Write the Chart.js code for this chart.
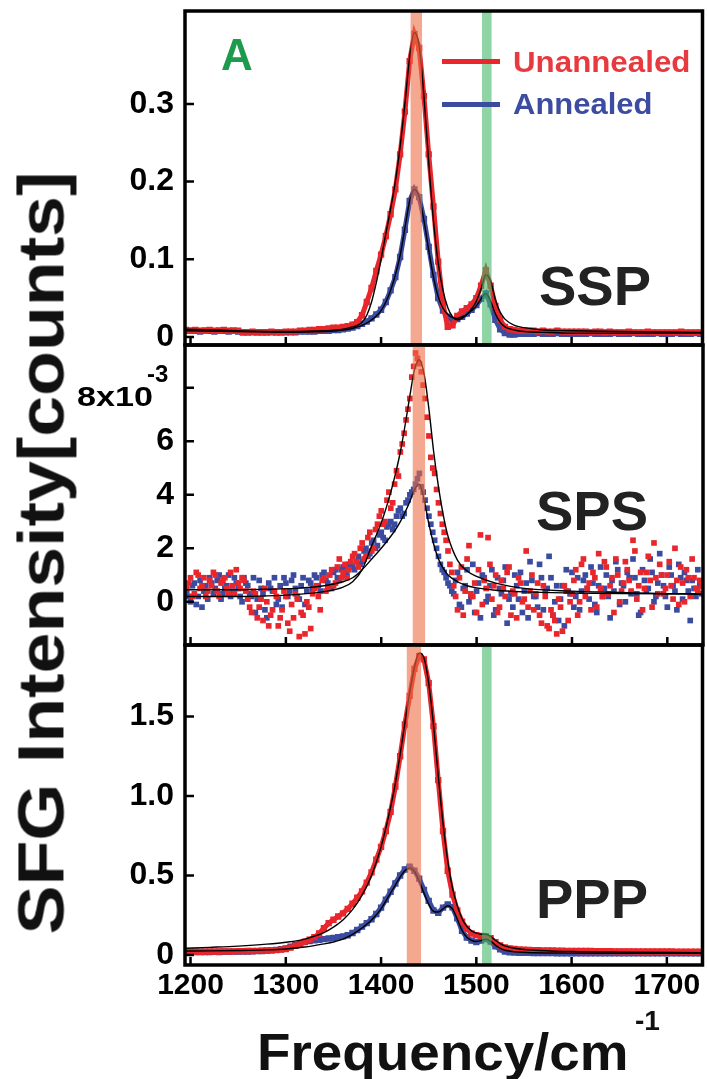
<!DOCTYPE html>
<html><head><meta charset="utf-8">
<script src="https://cdn.jsdelivr.net/npm/chart.js@4.4.1/dist/chart.umd.min.js"></script>
<style>
html,body{margin:0;padding:0;background:#fff;}
#wrap{position:relative;width:707px;height:1079px;overflow:hidden;background:#fff;}
canvas{position:absolute;left:0;}
.t{position:absolute;font-family:"Liberation Sans",Arial,Helvetica,sans-serif;font-weight:bold;white-space:nowrap;line-height:1;margin:0;}
.sw{position:absolute;height:5px;width:58px;left:442px;}
</style></head><body>
<div id="wrap">
<canvas id="c1" width="707" height="365" style="top:0px"></canvas>
<canvas id="c2" width="707" height="345" style="top:325px"></canvas>
<canvas id="c3" width="707" height="454" style="top:625px"></canvas>
<div class="t" id="ytitle" style="font-size:64px;color:#111;">SFG Intensity[counts]</div>
<div class="t" id="xtitle" style="font-size:52px;color:#111;left:257px;top:1026px;">Frequency/cm</div>
<div class="t" id="xsup" style="font-size:28px;color:#111;left:635px;top:1007px;">-1</div>
<div class="t" style="font-size:56px;color:#222;left:539px;top:258px;">SSP</div>
<div class="t" style="font-size:56px;color:#222;left:536px;top:483px;">SPS</div>
<div class="t" style="font-size:56px;color:#222;left:536px;top:871px;">PPP</div>
<div class="t" id="lblA" style="font-size:44px;color:#1E9A4C;left:221px;top:33px;">A</div>
<div class="sw" style="top:59px;background:#E8262B;"></div>
<div class="sw" style="top:101.5px;background:#3A4BA0;"></div>
<div class="t" id="legU" style="font-size:29px;color:#E83A3E;left:513px;top:48px;">Unannealed</div>
<div class="t" id="legA" style="font-size:29px;color:#3C4CA0;left:513px;top:89.5px;">Annealed</div>
</div>
<script>
// ---------- axis settings ----------
const X_MIN = 1194.2, X_MAX = 1737.4;
const X_TICKS = [1200,1300,1400,1500,1600,1700];
const X_TICK_LABELS = ['1200','1300','1400','1500','1600','1700'];
const SSP_TICKS = [0,0.1,0.2,0.3];
const SSP_TICK_LABELS = ['0','0.1','0.2','0.3'];
const SPS_TICKS = [0,2,4,6,8];
const SPS_TICK_LABELS = ['0','2','4','6',''];
const PPP_TICKS = [0,0.5,1.0,1.5];
const PPP_TICK_LABELS = ['0','0.5','1.0','1.5'];

// ---------- frequency grids (cm-1) ----------
const FREQ = [1195,1200,1205,1210,1215,1220,1225,1230,1235,1240,1245,1250,
1255,1260,1265,1270,1275,1280,1285,1290,1295,1300,
1305,1310,1315,1320,1325,1330,1335,1340,1345,1350,
1355,1360,1365,1370,1375,1380,1385,1390,1395,1400,
1405,1410,1415,1420,1425,1430,1435,1440,1445,1450,
1455,1460,1465,1470,1475,1480,1485,1490,1495,1500,
1505,1510,1515,1520,1525,1530,1535,1540,1545,1550,
1555,1560,1565,1570,1575,1580,1585,1590,1595,1600,
1605,1610,1615,1620,1625,1630,1635,1640,1645,1650,
1655,1660,1665,1670,1675,1680,1685,1690,1695,1700,
1705,1710,1715,1720,1725,1730,1735];

// ---------- SSP (counts) ----------
const SSP_UNANNEALED = [0.009,0.008,0.009,0.008,0.008,0.009,0.008,0.008,0.009,0.008,0.008,0.008,
0.006,0.006,0.007,0.006,0.006,0.006,0.007,0.006,0.006,0.007,
0.007,0.007,0.008,0.008,0.009,0.009,0.010,0.010,0.011,0.012,
0.012,0.013,0.014,0.016,0.019,0.028,0.045,0.063,0.085,0.106,
0.13,0.158,0.19,0.235,0.29,0.355,0.39,0.372,0.31,0.235,
0.168,0.097,0.042,0.013,0.015,0.027,0.033,0.037,0.042,0.05,
0.066,0.086,0.066,0.04,0.022,0.013,0.01,0.009,0.008,0.008,
0.008,0.008,0.007,0.008,0.007,0.007,0.008,0.007,0.007,0.007,
0.007,0.007,0.007,0.006,0.007,0.007,0.006,0.007,0.006,0.006,
0.006,0.007,0.006,0.006,0.006,0.007,0.006,0.006,0.006,0.006,
0.006,0.006,0.007,0.006,0.006,0.006,0.006];
const SSP_ANNEALED = [0.008,0.008,0.008,0.007,0.008,0.008,0.007,0.008,0.008,0.007,0.008,0.007,
0.006,0.006,0.006,0.006,0.006,0.006,0.006,0.006,0.006,0.006,
0.006,0.006,0.007,0.007,0.007,0.007,0.008,0.008,0.008,0.009,
0.009,0.010,0.011,0.012,0.014,0.017,0.020,0.024,0.029,0.035,
0.045,0.06,0.077,0.103,0.138,0.175,0.19,0.18,0.152,0.116,
0.08,0.05,0.034,0.026,0.022,0.023,0.026,0.03,0.035,0.041,
0.049,0.056,0.042,0.022,0.01,0.005,0.003,0.003,0.004,0.004,
0.004,0.004,0.005,0.004,0.004,0.004,0.005,0.004,0.004,0.004,
0.004,0.004,0.004,0.005,0.004,0.004,0.004,0.004,0.005,0.004,
0.004,0.004,0.005,0.004,0.004,0.004,0.004,0.005,0.004,0.004,
0.004,0.005,0.004,0.004,0.004,0.005,0.004];
const SSP_FIT_X = [1195,1250,1300,1340,1360,1370,1375,1380,1385,1390,1395,1400,1405,1410,1415,1420,1425,1430,1435,1440,1445,1450,1455,1460,1465,1470,1475,1480,1485,1490,1495,1500,1505,1510,1515,1520,1525,1530,1540,1550,1570,1600,1650,1737];
const SSP_FIT_UNANNEALED = [0.010,0.008,0.007,0.008,0.010,0.013,0.015,0.019,0.028,0.045,0.07,0.1,0.133,0.165,0.2,0.245,0.3,0.36,0.392,0.375,0.31,0.225,0.15,0.095,0.06,0.038,0.026,0.022,0.024,0.029,0.036,0.046,0.062,0.08,0.072,0.048,0.032,0.023,0.015,0.012,0.009,0.008,0.007,0.006];
const SSP_FIT_ANNEALED = [0.008,0.007,0.006,0.007,0.009,0.011,0.013,0.015,0.018,0.022,0.027,0.034,0.045,0.06,0.08,0.105,0.14,0.175,0.19,0.18,0.15,0.112,0.077,0.052,0.037,0.029,0.025,0.024,0.026,0.029,0.034,0.04,0.049,0.056,0.046,0.03,0.019,0.013,0.009,0.007,0.006,0.005,0.005,0.005];

// ---------- SPS (x10^-3 counts), two interleaved scans ----------
const FREQ_SPS = [1196,1200,1204,1208,1212,1216,1220,1224,1228,1232,1236,1240,1244,1248,1252,1256,
1260,1264,1268,1272,1276,1280,1284,1288,1292,1296,1300,1304,1308,1312,1316,1320,1324,1328,
1332,1336,1340,1344,1348,1352,1356,1360,1364,1368,
1372,1376,1380,1384,1388,1392,1396,
1400,1404,1408,1412,1416,1420,1424,1428,1432,
1436,1440,
1444,1448,1452,1456,1460,1464,1468,1472,
1476,1480,1484,1488,1492,1496,1500,1504,1508,1512,1516,1520,1524,1528,1532,1536,1540,1544,1548,1552,
1556,1560,1564,1568,1572,1576,1580,1584,1588,1592,1596,1600,1604,1608,1612,1616,1620,1624,1628,1632,
1636,1640,1644,1648,1652,1656,1660,1664,1668,1672,1676,1680,1684,1688,1692,1696,1700,1704,1708,1712,
1716,1720,1724,1728,1732,1736];
const SPS_UNANNEALED = [0.5,0.9,0.3,1.0,0.6,0.2,0.8,1.1,0.4,0.7,0.9,0.3,0.6,1.2,0.5,0.8,
0.1,-0.4,0.3,-0.2,-0.7,0.0,-0.5,0.4,-0.9,-0.3,0.2,-1.1,-0.6,0.1,-0.4,-1.2,-0.2,0.3,
0.6,-0.3,0.9,0.5,1.2,0.7,1.6,1.1,0.9,1.5,
1.8,1.3,2.2,1.7,2.6,2.0,2.9,
3.4,3.0,4.1,3.7,4.9,5.6,6.3,7.2,8.4,
9.3,8.9,
8.1,6.9,5.4,4.8,3.7,2.9,2.3,1.4,
0.6,-0.3,1.3,0.4,2.1,0.2,-0.4,2.5,0.8,2.4,
0.1,1.0,-0.2,0.5,1.1,-0.5,0.3,0.9,0.0,1.9,
0.4,-0.3,0.7,-0.8,0.2,-1.0,-0.5,-1.2,-0.2,0.6,
-0.7,0.3,1.2,0.0,1.6,0.5,-0.3,0.9,1.8,0.2,
1.3,0.6,-0.4,1.0,0.4,1.5,0.8,2.3,0.1,1.1,
0.5,1.7,-0.2,0.9,1.4,0.3,1.0,0.6,2.0,-0.1,
0.7,1.2,0.2,0.9,0.4,0.6];
const SPS_ANNEALED = [0.4,0.0,0.7,0.2,-0.2,0.6,0.9,0.3,0.8,0.1,0.5,1.0,0.4,0.7,0.2,0.9,
0.6,0.2,-0.4,0.8,0.3,-0.6,0.5,0.9,0.1,-0.2,0.7,0.4,1.0,0.2,0.6,-0.1,0.8,0.5,
0.9,0.4,1.1,0.7,0.5,1.2,0.8,1.3,1.0,1.4,
1.2,1.7,1.5,2.0,1.8,2.3,2.1,
2.6,2.3,2.9,2.7,3.2,3.5,3.3,3.8,4.1,
4.4,4.8,
4.1,3.5,2.9,2.3,1.7,1.2,0.9,0.6,
0.3,1.1,-0.2,0.6,0.0,1.4,0.4,-0.6,0.9,0.2,
1.2,-0.3,0.5,0.8,-0.8,0.3,1.0,0.1,-0.4,0.7,
1.5,0.2,-0.2,0.9,0.4,1.7,-0.5,0.6,0.1,-0.9,
0.4,1.1,0.2,-0.3,0.8,0.5,1.3,-0.1,0.6,0.2,
1.0,-0.6,0.4,1.2,0.7,0.0,0.9,1.6,0.3,-0.4,
0.8,0.5,1.1,0.2,1.8,0.6,-0.2,1.0,0.4,1.4,
0.1,0.8,-0.7,0.5,1.2,0.3];
const FREQ_SPS_B = [1198,1202,1206,1210,1214,1218,1222,1226,1230,1234,1238,1242,1246,1250,1254,1258,
1262,1266,1270,1274,1278,1282,1286,1290,1294,1298,1302,1306,1310,1314,1318,1322,1326,1330,
1334,1338,1342,1346,1350,1354,1358,1362,1366,1370,
1374,1378,1382,1386,1390,1394,1398,
1402,1406,1410,1414,1418,1422,1426,1430,1434,
1438,1442,
1446,1450,1454,1458,1462,1466,1470,1474,
1478,1482,1486,1490,1494,1498,1502,1506,1510,1514,1518,1522,1526,1530,1534,1538,1542,1546,1550,1554,
1558,1562,1566,1570,1574,1578,1582,1586,1590,1594,1598,1602,1606,1610,1614,1618,1622,1626,1630,1634,
1638,1642,1646,1650,1654,1658,1662,1666,1670,1674,1678,1682,1686,1690,1694,1698,1702,1706,1710,1714,
1718,1722,1726,1730,1734];
const SPS_UNANNEALED_B = [0.7,0.2,1.1,0.5,0.9,0.4,0.6,1.0,0.2,0.8,0.5,1.1,0.3,0.7,0.9,0.4,
-0.2,0.4,-0.6,0.1,0.5,-0.9,-0.3,0.2,-0.6,0.4,-0.8,-0.1,0.3,-1.3,-0.5,0.0,-1.0,0.5,
0.2,0.8,0.4,1.0,0.6,1.3,0.9,1.4,1.2,1.7,
1.5,2.0,1.6,2.4,1.9,2.7,3.2,
2.9,3.8,3.5,4.4,4.7,5.9,6.8,7.6,8.8,
9.1,8.6,
7.6,6.2,5.0,4.2,3.3,2.6,1.9,1.1,
0.2,0.9,-0.5,1.6,0.3,0.7,1.2,-0.1,0.5,1.4,
0.6,-0.4,0.8,0.2,1.3,0.4,-0.6,0.7,0.1,-0.2,
1.0,0.3,-0.5,0.6,-0.9,-0.3,-0.7,0.1,-1.1,0.4,
0.0,0.8,-0.5,1.4,0.2,0.7,1.1,-0.2,0.5,1.5,
0.3,0.9,1.6,0.0,0.7,1.2,0.4,1.9,0.6,-0.3,
1.1,0.8,2.2,0.3,1.0,0.5,1.5,0.1,0.8,1.3,
0.0,0.9,1.6,0.5,0.8];
const SPS_ANNEALED_B = [0.2,0.6,-0.1,0.8,0.4,0.1,0.7,0.5,1.0,0.3,0.6,0.2,0.9,0.5,0.0,0.7,
0.3,0.9,0.1,0.5,-0.3,0.7,0.4,-0.1,0.6,0.9,0.2,0.8,0.5,0.1,0.9,0.4,0.7,1.0,
0.6,1.0,0.8,0.5,1.1,0.9,1.2,1.1,1.4,1.3,
1.5,1.4,1.9,1.7,2.2,2.0,2.5,
2.4,2.8,3.0,2.9,3.4,3.2,3.7,4.0,4.2,
4.6,4.3,
3.8,3.2,2.6,2.0,1.4,1.1,0.7,0.4,
0.8,-0.1,0.5,1.2,0.2,-0.4,0.7,1.0,0.0,0.6,
-0.5,0.9,0.3,1.3,0.1,-0.2,0.6,1.1,0.4,-0.6,
0.8,0.2,1.4,-0.3,0.5,0.9,0.0,-0.7,0.6,1.2,
0.3,-0.2,0.9,0.4,1.0,0.1,0.7,-0.4,1.3,0.5,
0.2,0.8,1.5,-0.1,0.6,1.1,0.3,0.9,-0.5,1.2,
0.4,1.6,0.0,0.7,1.0,0.2,1.3,0.6,-0.3,0.9,
1.1,0.4,0.8,0.2,0.6];
const SPS_FIT_X = [1195,1220,1250,1280,1310,1340,1360,1370,1380,1390,1400,1410,1415,1420,1425,1430,1435,1440,1445,1450,1455,1460,1465,1470,1480,1490,1500,1520,1550,1600,1650,1700,1737];
const SPS_FIT_UNANNEALED = [0.2,0.2,0.2,0.22,0.27,0.38,0.55,0.75,1.2,2.1,2.95,4.1,4.8,5.6,6.6,7.7,8.7,9.05,8.5,7.2,5.6,4.3,3.25,2.45,1.55,1.15,0.95,0.7,0.5,0.4,0.35,0.3,0.28];
const SPS_FIT_ANNEALED = [0.45,0.45,0.45,0.47,0.5,0.6,0.75,0.9,1.2,1.6,2.0,2.45,2.7,3.0,3.35,3.75,4.2,4.4,3.8,2.9,2.15,1.6,1.25,1.0,0.75,0.6,0.52,0.43,0.37,0.33,0.31,0.3,0.3];

// ---------- PPP (counts) ----------
const PPP_UNANNEALED = [0.02,0.02,0.021,0.02,0.021,0.022,0.021,0.022,0.023,0.022,0.023,0.024,
0.024,0.025,0.025,0.026,0.027,0.028,0.029,0.031,0.034,0.038,
0.046,0.058,0.07,0.084,0.097,0.112,0.135,0.168,0.2,0.222,
0.242,0.262,0.29,0.322,0.36,0.4,0.455,0.52,0.6,0.68,
0.78,0.9,1.06,1.25,1.45,1.63,1.8,1.88,1.86,1.71,
1.44,1.1,0.78,0.53,0.38,0.28,0.21,0.165,0.135,0.125,
0.12,0.118,0.105,0.08,0.06,0.048,0.042,0.038,0.035,0.033,
0.032,0.031,0.03,0.029,0.028,0.028,0.027,0.027,0.026,0.026,
0.026,0.025,0.025,0.025,0.024,0.024,0.024,0.024,0.023,0.023,
0.023,0.023,0.023,0.022,0.022,0.022,0.022,0.022,0.022,0.022,
0.022,0.021,0.021,0.021,0.021,0.021,0.021];
const PPP_ANNEALED = [0.018,0.018,0.019,0.018,0.019,0.019,0.02,0.019,0.02,0.02,0.021,0.021,
0.022,0.022,0.023,0.024,0.025,0.027,0.029,0.032,0.036,0.042,
0.052,0.064,0.074,0.081,0.087,0.092,0.096,0.1,0.104,0.108,
0.112,0.117,0.124,0.138,0.157,0.178,0.2,0.225,0.258,0.298,
0.348,0.398,0.45,0.5,0.538,0.556,0.53,0.48,0.41,0.34,
0.28,0.265,0.298,0.318,0.3,0.23,0.152,0.11,0.09,0.082,
0.09,0.1,0.085,0.055,0.035,0.022,0.017,0.015,0.014,0.013,
0.013,0.012,0.012,0.012,0.012,0.012,0.011,0.011,0.011,0.011,
0.011,0.011,0.011,0.011,0.011,0.011,0.011,0.011,0.011,0.011,
0.011,0.01,0.011,0.011,0.01,0.011,0.011,0.01,0.011,0.011,
0.011,0.01,0.011,0.011,0.01,0.011,0.011];
const PPP_FIT_X = [1195,1220,1250,1280,1300,1320,1340,1350,1360,1370,1380,1390,1400,1410,1415,1420,1425,1430,1435,1440,1445,1450,1455,1460,1465,1470,1475,1480,1485,1490,1495,1500,1505,1510,1515,1520,1525,1530,1540,1560,1600,1650,1737];
const PPP_FIT_UNANNEALED = [0.042,0.048,0.056,0.068,0.08,0.1,0.14,0.175,0.22,0.285,0.375,0.5,0.68,0.93,1.08,1.26,1.46,1.65,1.81,1.9,1.87,1.71,1.45,1.13,0.83,0.59,0.42,0.31,0.23,0.18,0.152,0.137,0.13,0.13,0.117,0.093,0.072,0.057,0.042,0.03,0.022,0.018,0.015];
const PPP_FIT_ANNEALED = [0.025,0.026,0.028,0.032,0.038,0.05,0.07,0.082,0.1,0.13,0.17,0.22,0.29,0.39,0.44,0.49,0.53,0.548,0.525,0.465,0.39,0.32,0.275,0.27,0.29,0.31,0.29,0.225,0.155,0.112,0.092,0.085,0.09,0.1,0.087,0.062,0.042,0.03,0.02,0.014,0.012,0.011,0.01];

// ---------- highlighted bands (cm-1) ----------
const BAND_SSP_ORANGE = [1431,1443];
const BAND_SPS_ORANGE = [1433,1446];
const BAND_PPP_ORANGE = [1427,1442];
const BAND_GREEN = [1506,1516];

const RED = '#E8262B', BLUE = '#3A4BA0';
const ORANGE_FILL = 'rgba(237,110,70,0.6)', GREEN_FILL = 'rgba(68,183,105,0.6)';
const FONT = "'Liberation Sans', Arial, Helvetica, sans-serif";
Chart.defaults.font.family = FONT;

function pts(xs, ys){ const n=Math.min(xs.length, ys.length); const o=[]; for(let i=0;i<n;i++) o.push({x:xs[i], y:ys[i]}); return o; }
function scatterDs(label, xs, ys, color, r, order, lineW){
  return {label, data:pts(xs,ys), backgroundColor:color, borderColor:color, borderWidth:lineW||0,
    pointBorderWidth:0, pointStyle:'rect', pointRadius:r, pointHoverRadius:r,
    showLine:!!lineW, fill:false, tension:0, order, clip:0};
}
function fitDs(label, xs, ys, order){
  return {label, data:pts(xs,ys), borderColor:'#000', backgroundColor:'#000', borderWidth:1.4,
    pointRadius:0, showLine:true, fill:false, cubicInterpolationMode:'monotone', order, clip:0};
}

function panelPlugin(cfg){
  return {
    id:'panel_'+cfg.id,
    afterDatasetsDraw(chart){
      const {ctx, chartArea:a} = chart; const xs = chart.scales.x;
      ctx.save();
      cfg.bands.forEach(b=>{
        const x0 = xs.getPixelForValue(b.range[0]), x1 = xs.getPixelForValue(b.range[1]);
        ctx.fillStyle = b.color;
        ctx.fillRect(x0, a.top, x1-x0, a.bottom-a.top);
      });
      ctx.restore();
    },
    afterDraw(chart){
      const {ctx, chartArea:a} = chart; const xs = chart.scales.x, ys = chart.scales.y;
      ctx.save();
      ctx.strokeStyle = '#000'; ctx.lineWidth = 2.5;
      ctx.beginPath();
      X_TICKS.forEach(v=>{ const p = xs.getPixelForValue(v); ctx.moveTo(p, a.bottom); ctx.lineTo(p, a.bottom-8); });
      cfg.yTicks.forEach(v=>{ const p = ys.getPixelForValue(v); ctx.moveTo(a.left, p); ctx.lineTo(a.left+9, p); });
      ctx.stroke();
      ctx.lineWidth = 3.5;
      ctx.strokeRect(a.left, a.top, a.right-a.left, a.bottom-a.top);
      ctx.restore();
      if (cfg.extra) cfg.extra(chart);
    }
  };
}

function makeOptions(cfg){
  return {
    responsive:false, maintainAspectRatio:false, animation:false, events:[],
    layout:{padding:{top:cfg.padTop, left:0, right:4, bottom:0}},
    plugins:{legend:{display:false}, tooltip:{enabled:false}},
    scales:{
      x:{type:'linear', min:X_MIN, max:X_MAX,
        afterFit:s=>{ s.height = cfg.xh; s.paddingLeft = 0; s.paddingRight = 0; s.paddingTop = 0; s.paddingBottom = 0; },
        afterBuildTicks:s=>{ s.ticks = X_TICKS.map(v=>({value:v})); },
        grid:{display:false, drawTicks:false}, border:{display:false},
        ticks:{display:cfg.showX, padding:3, autoSkip:false, maxRotation:0, color:'#000',
          font:{size:30, weight:'bold', family:FONT}, callback:(v,i)=>X_TICK_LABELS[i]}},
      y:{type:'linear', min:cfg.yMin, max:cfg.yMax,
        afterFit:s=>{ s.width = 185; s.paddingTop = 0; s.paddingBottom = 0; s.paddingLeft = 0; s.paddingRight = 0; },
        afterBuildTicks:s=>{ s.ticks = cfg.yTicks.map(v=>({value:v})); },
        grid:{display:false, drawTicks:false}, border:{display:false},
        ticks:{padding:11, autoSkip:false, color:'#000',
          font:{size:32, weight:'bold', family:FONT}, callback:(v,i)=>cfg.yLabels[i]}}
    }
  };
}

// Panel 1: SSP
new Chart(document.getElementById('c1'), {
  type:'scatter',
  data:{datasets:[
    fitDs('Unannealed fit', SSP_FIT_X, SSP_FIT_UNANNEALED, 0),
    fitDs('Annealed fit', SSP_FIT_X, SSP_FIT_ANNEALED, 0),
    scatterDs('Unannealed', FREQ, SSP_UNANNEALED, RED, 4.5, 1, 5),
    scatterDs('Annealed', FREQ, SSP_ANNEALED, BLUE, 4.5, 2, 5)
  ]},
  options: makeOptions({padTop:11, xh:20, showX:false, yMin:-0.0103, yMax:0.4196, yTicks:SSP_TICKS, yLabels:SSP_TICK_LABELS}),
  plugins:[panelPlugin({id:1, yTicks:SSP_TICKS, bands:[{range:BAND_SSP_ORANGE,color:ORANGE_FILL},{range:BAND_GREEN,color:GREEN_FILL}]})]
});

// Panel 2: SPS
new Chart(document.getElementById('c2'), {
  type:'scatter',
  data:{datasets:[
    fitDs('Unannealed fit', SPS_FIT_X, SPS_FIT_UNANNEALED, 0),
    fitDs('Annealed fit', SPS_FIT_X, SPS_FIT_ANNEALED, 0),
    scatterDs('Unannealed', FREQ_SPS, SPS_UNANNEALED, RED, 4, 1),
    scatterDs('Unannealed (scan 2)', FREQ_SPS_B, SPS_UNANNEALED_B, RED, 4, 1),
    scatterDs('Annealed', FREQ_SPS, SPS_ANNEALED, BLUE, 4, 2),
    scatterDs('Annealed (scan 2)', FREQ_SPS_B, SPS_ANNEALED_B, BLUE, 4, 2)
  ]},
  options: makeOptions({padTop:20, xh:25, showX:false, yMin:-1.615, yMax:9.6, yTicks:SPS_TICKS, yLabels:SPS_TICK_LABELS}),
  plugins:[panelPlugin({id:2, yTicks:SPS_TICKS, bands:[{range:BAND_SPS_ORANGE,color:ORANGE_FILL}],
    extra:(chart)=>{
      const ctx = chart.ctx; const y = chart.scales.y.getPixelForValue(SPS_TICKS[4]);
      ctx.save(); ctx.fillStyle = '#000';
      ctx.font = 'bold 28px ' + FONT; ctx.textBaseline = 'middle'; ctx.textAlign = 'right';
      const w = ctx.measureText('8x10').width;
      ctx.translate(153, y + 10); ctx.scale(76 / w, 1);
      ctx.fillText('8x10', 0, 0);
      ctx.restore();
      ctx.save(); ctx.fillStyle = '#000';
      ctx.font = 'bold 24px ' + FONT; ctx.textBaseline = 'middle'; ctx.textAlign = 'left';
      ctx.fillText('-3', 147, y - 12);
      ctx.restore();
    }})]
});

// Panel 3: PPP
new Chart(document.getElementById('c3'), {
  type:'scatter',
  data:{datasets:[
    fitDs('Unannealed fit', PPP_FIT_X, PPP_FIT_UNANNEALED, 0),
    fitDs('Annealed fit', PPP_FIT_X, PPP_FIT_ANNEALED, 0),
    scatterDs('Unannealed', FREQ, PPP_UNANNEALED, RED, 4.5, 1, 5),
    scatterDs('Annealed', FREQ, PPP_ANNEALED, BLUE, 4.5, 2, 5)
  ]},
  options: makeOptions({padTop:20, xh:114, showX:true, yMin:-0.063, yMax:1.95, yTicks:PPP_TICKS, yLabels:PPP_TICK_LABELS}),
  plugins:[panelPlugin({id:3, yTicks:PPP_TICKS, bands:[{range:BAND_PPP_ORANGE,color:ORANGE_FILL},{range:BAND_GREEN,color:GREEN_FILL}]})]
});

// ---------- text sizing ----------
(function(){
  const yt = document.getElementById('ytitle');
  const w = yt.offsetWidth, h = yt.offsetHeight;
  yt.style.left = (41.5 - w/2) + 'px'; yt.style.top = (553 - h/2) + 'px';
  yt.style.transformOrigin = '50% 50%';
  yt.style.transform = 'rotate(-90deg) scaleX(' + (763 / w) + ')';
  function stretch(id, target){ const el = document.getElementById(id); el.style.transformOrigin = '0 0'; el.style.transform = 'scaleX(' + (target / el.offsetWidth) + ')'; }
  stretch('xtitle', 372);
  stretch('legU', 177);
  stretch('legA', 140);
})();
</script>
</body></html>
